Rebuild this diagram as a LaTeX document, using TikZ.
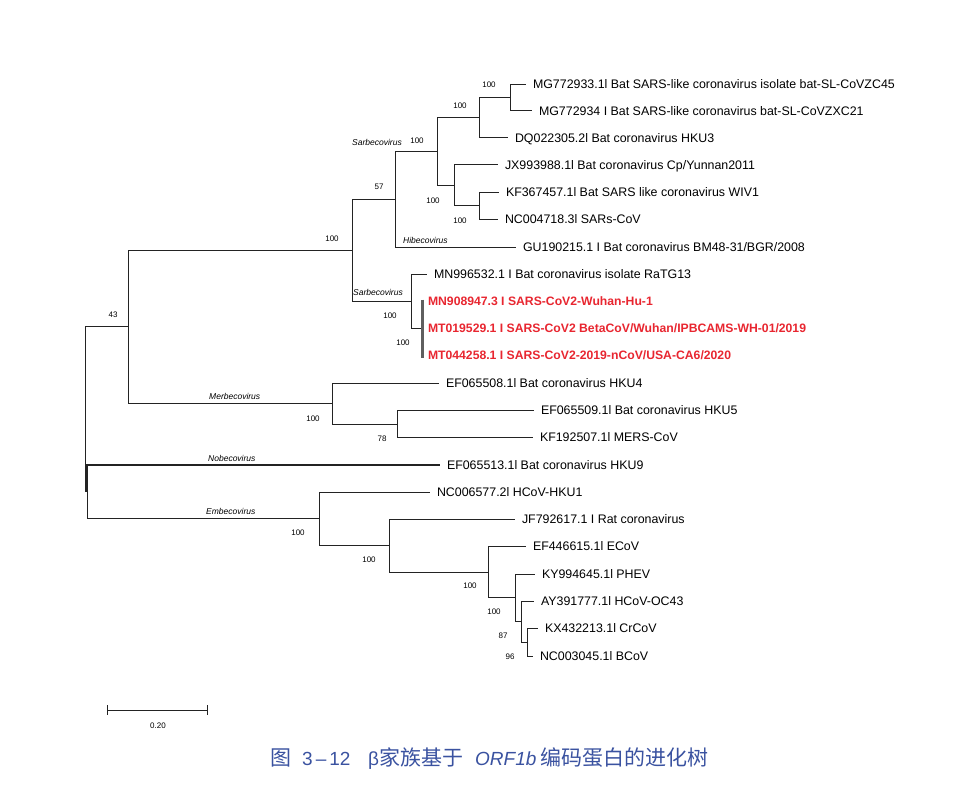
\documentclass[tikz,border=0pt]{standalone}
\usepackage{fontspec}
\setmainfont{Liberation Sans}
\newfontfamily\cjk{Noto Sans CJK SC}
\definecolor{redlab}{RGB}{232,38,48}
\definecolor{capblue}{RGB}{58,82,160}
\definecolor{treec}{RGB}{35,35,35}
\definecolor{polyc}{RGB}{95,95,95}
\begin{document}
\begin{tikzpicture}[x=1pt,y=-1pt,
  br/.style={draw=treec, line width=1pt},
  poly/.style={draw=polyc, line width=2.6pt},
  leaf/.style={anchor=west, inner xsep=0pt, inner ysep=0pt, outer xsep=7pt, outer ysep=0pt,
    text height=8.9pt, text depth=0pt, font=\fontsize{12.4}{14}\selectfont},
  redleaf/.style={leaf, outer xsep=5.5pt, text=redlab, font=\fontsize{12.2}{14}\selectfont\bfseries},
  bs/.style={inner sep=0pt, text height=5.8pt, text depth=0pt, font=\fontsize{8}{9}\selectfont},
  genus/.style={anchor=west, inner sep=0pt, text height=6.2pt, text depth=0pt, font=\fontsize{8.5}{10}\selectfont\itshape},
  captext/.style={anchor=base west, inner sep=0pt, text=capblue}]
\useasboundingbox (0,0) rectangle (977,805);

% ---- leaves
\node[leaf] (l1) at (526,84.5) {MG772933.1l Bat SARS-like coronavirus isolate bat-SL-CoVZC45};
\node[leaf] (l2) at (532,111) {MG772934 I Bat SARS-like coronavirus bat-SL-CoVZXC21};
\node[leaf] (l3) at (508,138) {DQ022305.2l Bat coronavirus HKU3};
\node[leaf] (l4) at (498,165) {JX993988.1l Bat coronavirus Cp/Yunnan2011};
\node[leaf] (l5) at (499,192.5) {KF367457.1l Bat SARS like coronavirus WIV1};
\node[leaf] (l6) at (498,219.5) {NC004718.3l SARs-CoV};
\node[leaf] (l7) at (516,247) {GU190215.1 I Bat coronavirus BM48-31/BGR/2008};
\node[leaf] (l8) at (427,274) {MN996532.1 I Bat coronavirus isolate RaTG13};
\node[redleaf] (l9) at (422.5,301) {MN908947.3 I SARS-CoV2-Wuhan-Hu-1};
\node[redleaf] (l10) at (422.5,328) {MT019529.1 I SARS-CoV2 BetaCoV/Wuhan/IPBCAMS-WH-01/2019};
\node[redleaf] (l11) at (422.5,355.5) {MT044258.1 I SARS-CoV2-2019-nCoV/USA-CA6/2020};
\node[leaf] (l12) at (439,383) {EF065508.1l Bat coronavirus HKU4};
\node[leaf] (l13) at (534,410.5) {EF065509.1l Bat coronavirus HKU5};
\node[leaf] (l14) at (533,437.5) {KF192507.1l MERS-CoV};
\node[leaf] (l15) at (440,465) {EF065513.1l Bat coronavirus HKU9};
\node[leaf] (l16) at (430,492) {NC006577.2l HCoV-HKU1};
\node[leaf] (l17) at (515,519.5) {JF792617.1 I Rat coronavirus};
\node[leaf] (l18) at (526,546.5) {EF446615.1l ECoV};
\node[leaf] (l19) at (535,574) {KY994645.1l PHEV};
\node[leaf] (l20) at (534,601) {AY391777.1l HCoV-OC43};
\node[leaf] (l21) at (538,628.5) {KX432213.1l CrCoV};
\node[leaf] (l22) at (533,656) {NC003045.1l BCoV};

% ---- internal nodes
\coordinate (A) at (510,97.75);
\coordinate (B) at (479,117.9);
\coordinate (D) at (479,206);
\coordinate (C) at (454,185.5);
\coordinate (R) at (437,151.7);
\coordinate (Q) at (395,199.35);
\coordinate (T) at (422.5,328.25);
\coordinate (Ttop) at (422.5,299.5);
\coordinate (Tbot) at (422.5,357.5);
\coordinate (S) at (411,301.1);
\coordinate (P) at (352,250.2);
\coordinate (N) at (397,424);
\coordinate (M) at (332,403.5);
\coordinate (X) at (128,326.85);
\coordinate (J) at (527,642.25);
\coordinate (I) at (521,621.6);
\coordinate (H) at (515,597.8);
\coordinate (G) at (488,572.15);
\coordinate (F) at (389,545.8);
\coordinate (E) at (319,518.9);
\coordinate (Y) at (87,491.95);
\coordinate (root) at (85.5,409.4);

% ---- branches
\draw[br] (A) |- (l1.west);  \draw[br] (A) |- (l2.west);
\draw[br] (B) |- (A);        \draw[br] (B) |- (l3.west);
\draw[br] (D) |- (l5.west);  \draw[br] (D) |- (l6.west);
\draw[br] (C) |- (l4.west);  \draw[br] (C) |- (D);
\draw[br] (R) |- (B);        \draw[br] (R) |- (C);
\draw[br] (Q) |- (R);        \draw[br] (Q) |- (l7.west);
\draw[br] (T) |- (l9.west);  \draw[br] (T) |- (l10.west); \draw[br] (T) |- (l11.west);
\draw[br] (S) |- (l8.west);  \draw[br] (S) |- (T);
\draw[br] (P) |- (Q);        \draw[br] (P) |- (S);
\draw[br] (N) |- (l13.west); \draw[br] (N) |- (l14.west);
\draw[br] (M) |- (l12.west); \draw[br] (M) |- (N);
\draw[br] (X) |- (P);        \draw[br] (X) |- (M);
\draw[br] (J) |- (l21.west); \draw[br] (J) |- (l22.west);
\draw[br] (I) |- (l20.west); \draw[br] (I) |- (J);
\draw[br] (H) |- (l19.west); \draw[br] (H) |- (I);
\draw[br] (G) |- (l18.west); \draw[br] (G) |- (H);
\draw[br] (F) |- (l17.west); \draw[br] (F) |- (G);
\draw[br] (E) |- (l16.west); \draw[br] (E) |- (F);
\draw[br, line width=1.4pt] (Y) |- (l15.west); \draw[br] (Y) |- (E);
\draw[br] (root) |- (X);     \draw[br] (root) |- (Y);
\draw[poly] (Ttop) -- (Tbot);

% ---- support values
\node[bs] (sA) at (489,85) {100};
\node[bs] (sB) at (460,105.5) {100};
\node[bs] (sR) at (417,140.5) {100};
\node[bs] (sQ) at (379,187) {57};
\node[bs] (sC) at (433,200.5) {100};
\node[bs] (sD) at (460,221) {100};
\node[bs] (sP) at (332,239) {100};
\node[bs] (sX) at (113,315) {43};
\node[bs] (sS) at (390,316) {100};
\node[bs] (sT) at (403,343) {100};
\node[bs] (sM) at (313,419) {100};
\node[bs] (sN) at (382,439) {78};
\node[bs] (sE) at (298,533) {100};
\node[bs] (sF) at (369,560) {100};
\node[bs] (sG) at (470,586) {100};
\node[bs] (sH) at (494,612) {100};
\node[bs] (sI) at (503,636) {87};
\node[bs] (sJ) at (510,657) {96};

% ---- genus labels
\node[genus] (g1) at (352,142) {Sarbecovirus};
\node[genus] (g2) at (403,240) {Hibecovirus};
\node[genus] (g3) at (353,292) {Sarbecovirus};
\node[genus] (g4) at (209,396) {Merbecovirus};
\node[genus] (g5) at (208,458) {Nobecovirus};
\node[genus] (g6) at (206,511) {Embecovirus};

% ---- scale bar
\coordinate (sbL) at (107,710);
\coordinate (sbR) at (207,710);
\draw[br] (sbL) -- (sbR);
\draw[br] ([yshift=5pt]sbL) -- ([yshift=-5pt]sbL);
\draw[br] ([yshift=5pt]sbR) -- ([yshift=-5pt]sbR);
\node[bs] (sbt) at (158,726) {0.20};

% ---- caption
\node[captext, font=\cjk\fontsize{21}{24}\selectfont] (c1) at (270,765) {图};
\node[captext, font=\fontsize{19}{22}\selectfont] (c2) at (302,765) {3\hspace{3pt}–\hspace{3pt}12};
\node[captext, font=\fontsize{19}{22}\selectfont] (c3) at (368,765) {β\cjk\fontsize{21}{24}\selectfont 家族基于};
\node[captext, font=\fontsize{19}{22}\selectfont\itshape] (c4) at (475,765) {ORF1b};
\node[captext, font=\cjk\fontsize{21}{24}\selectfont] (c5) at (540,765) {编码蛋白的进化树};
\end{tikzpicture}
\end{document}
